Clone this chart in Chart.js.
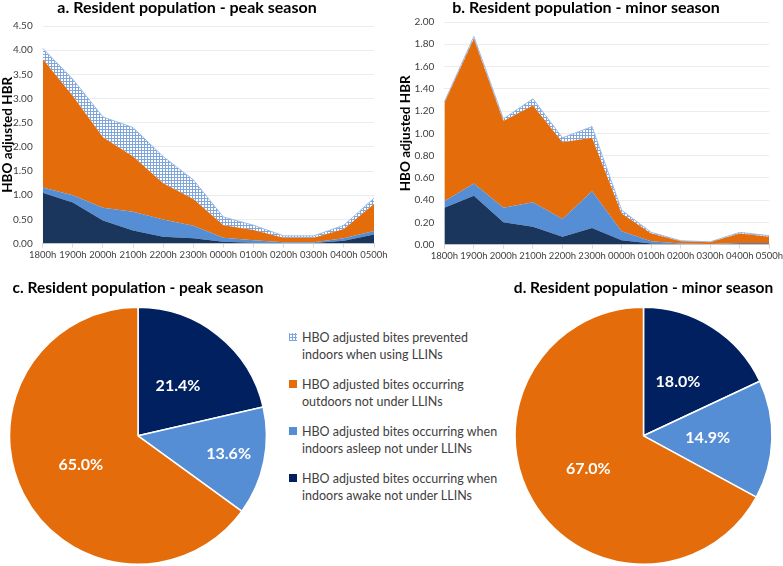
<!DOCTYPE html>
<html>
<head>
<meta charset="utf-8">
<script src="https://cdn.jsdelivr.net/npm/chart.js@4.4.1/dist/chart.umd.min.js"></script>
<style>
body{margin:0;background:#fff;width:783px;height:566px;position:relative;overflow:hidden;font-family:Lato,"Open Sans",sans-serif;}
canvas{position:absolute;}
#legend{position:absolute;left:289px;top:329px;font-size:12.5px;color:#404040;line-height:17px;}
#legend .item{position:relative;padding-left:13px;margin-bottom:13px;}
#legend .sw{position:absolute;left:0;top:4px;width:8px;height:8px;}
</style>
</head>
<body>
<canvas id="ca" width="392" height="272" style="left:0;top:0"></canvas>
<canvas id="cb" width="395" height="272" style="left:390px;top:0"></canvas>
<canvas id="cc" width="280" height="290" style="left:-2px;top:275px"></canvas>
<canvas id="cd" width="283" height="290" style="left:502px;top:275px"></canvas>
<div id="legend"></div>
<script>
// Categories
const hours=["1800h","1900h","2000h","2100h","2200h","2300h","0000h","0100h","0200h","0300h","0400h","0500h"];
const seriesNames=["HBO adjusted bites occurring when indoors awake not under LLINs","HBO adjusted bites occurring when indoors asleep not under LLINs","HBO adjusted bites occurring outdoors not under LLINs","HBO adjusted bites prevented indoors when using LLINs"];
const legendLines=[["HBO adjusted bites prevented","indoors when using LLINs"],["HBO adjusted bites occurring","outdoors not under LLINs"],["HBO adjusted bites occurring when","indoors asleep not under LLINs"],["HBO adjusted bites occurring when","indoors awake not under LLINs"]];

// a. peak season (stacked)
const peakAwake=[1.05,0.85,0.48,0.27,0.14,0.11,0.04,0.02,0.01,0.01,0.06,0.19];
const peakAsleep=[0.11,0.15,0.26,0.39,0.36,0.26,0.08,0.05,0.02,0.02,0.05,0.07];
const peakOutdoors=[2.66,2.05,1.46,1.14,0.75,0.55,0.26,0.21,0.09,0.09,0.19,0.56];
const peakPrevented=[0.22,0.35,0.42,0.60,0.55,0.40,0.17,0.10,0.04,0.04,0.08,0.12];

// b. minor season (stacked)
const minorAwake=[0.33,0.44,0.20,0.16,0.07,0.15,0.04,0.01,0.005,0,0.01,0.01];
const minorAsleep=[0.06,0.11,0.13,0.22,0.16,0.33,0.08,0.02,0.005,0.005,0.005,0.005];
const minorOutdoors=[0.88,1.30,0.78,0.87,0.69,0.48,0.16,0.07,0.02,0.015,0.085,0.055];
const minorPrevented=[0.01,0.02,0.02,0.06,0.04,0.10,0.03,0.01,0.005,0.005,0.01,0.01];

// c / d pies (percent): awake, asleep, outdoors
const pieLabels=["Indoors awake","Indoors asleep","Outdoors"];
const peakPie=[21.4,13.6,65.0];
const minorPie=[18.0,14.9,67.0];

const NAVY_AREA="#1b365d",NAVY_PIE="#002060",LBLUE="#558ed5",ORANGE="#e46c0a";

function gridPattern(){
let c=document.createElement("canvas");c.width=3;c.height=3;
let g=c.getContext("2d");
g.fillStyle="#fff";g.fillRect(0,0,3,3);
g.fillStyle="#7ea6dc";g.fillRect(0,0,3,1);g.fillRect(0,0,1,3);
return g.createPattern(c,"repeat");
}

function areaChart(id,title,data,max,step,pad,titleGap,axisW){
let fills=[NAVY_AREA,LBLUE,ORANGE,gridPattern()];
return new Chart(document.getElementById(id),{
type:"line",
data:{labels:hours,datasets:data.map((d,i)=>({label:seriesNames[i],data:d,backgroundColor:fills[i],borderColor:i==3?"#9dbde6":fills[i],borderWidth:i==3?1:0,pointRadius:0,tension:0,fill:i==0?"origin":"-1"}))},
options:{
responsive:false,animation:false,
layout:{padding:pad},
plugins:{legend:{display:false},tooltip:{enabled:false},
title:{display:true,text:title,color:"#000",font:{family:"Lato",size:16,weight:"bold",lineHeight:1},padding:{top:0,bottom:titleGap}}},
scales:{
x:{offset:false,grid:{display:true,drawOnChartArea:false,color:"#d9d9d9",tickLength:4},border:{color:"#d9d9d9"},
ticks:{color:"#404040",font:{family:"Lato",size:9.5},maxRotation:0,autoSkip:false,padding:2}},
y:{stacked:true,min:0,max:max,grid:{color:"#ececec",drawTicks:false},border:{display:false},
afterFit:s=>{s.width=axisW;},
ticks:{stepSize:step,color:"#404040",font:{family:"Lato",size:10},padding:10,callback:v=>v.toFixed(2)},
title:{display:true,text:"HBO adjusted HBR",color:"#000",font:{family:"Lato",size:13.5,weight:"bold"},padding:{top:0,bottom:2}}}
}
}
});
}

areaChart("ca","a. Resident population - peak season",[peakAwake,peakAsleep,peakOutdoors,peakPrevented],4.5,0.5,{left:0,right:18,top:0,bottom:9},10,42.7);
areaChart("cb","b. Resident population - minor season",[minorAwake,minorAsleep,minorOutdoors,minorPrevented],2.0,0.2,{left:8,right:11,top:0,bottom:8},6,46.3);

// draws the percentage labels inside the slices
const pieText={
id:"pieText",
afterDatasetsDraw(chart,args,opts){
let ctx=chart.ctx;
let meta=chart.getDatasetMeta(0);
ctx.save();
ctx.fillStyle="#fff";ctx.font="bold 16px Lato";ctx.textAlign="center";ctx.textBaseline="middle";
meta.data.forEach((arc,i)=>{
let p=arc.getProps(["x","y","startAngle","endAngle","outerRadius"],true);
let a=(p.startAngle+p.endAngle)/2;
let r=p.outerRadius*(opts.radius[i]||0.5);
ctx.fillText(chart.data.datasets[0].data[i].toFixed(1)+"%",p.x+Math.cos(a)*r,p.y+Math.sin(a)*r);
});
ctx.restore();
}
};

function pieChart(id,title,data,radii){
return new Chart(document.getElementById(id),{
type:"pie",
data:{labels:pieLabels,datasets:[{data:data,backgroundColor:[NAVY_PIE,LBLUE,ORANGE],borderColor:"#fff",borderWidth:1.5}]},
options:{
responsive:false,animation:false,
layout:{padding:0},
plugins:{legend:{display:false},tooltip:{enabled:false},
title:{display:true,text:title,color:"#000",font:{family:"Lato",size:15.5,weight:"bold"},padding:{top:4,bottom:9}},
pieText:{radius:radii}}
},
plugins:[pieText]
});
}

pieChart("cc","c. Resident population - peak season",peakPie,[0.5,0.72,0.5]);
pieChart("cd","d. Resident population - minor season",minorPie,[0.5,0.5,0.5]);

// Legend
let legendSwatches=[null,ORANGE,LBLUE,NAVY_PIE];
let lg=document.getElementById("legend");
legendLines.forEach((lines,i)=>{
let it=document.createElement("div");it.className="item";
let sw=document.createElement("span");sw.className="sw";
if(legendSwatches[i]) sw.style.background=legendSwatches[i];
else sw.style.background="repeating-linear-gradient(0deg,#7ea6dc 0 1px,transparent 1px 3px),repeating-linear-gradient(90deg,#7ea6dc 0 1px,#fff 1px 3px)";
it.appendChild(sw);
it.appendChild(document.createTextNode(lines[0]));
it.appendChild(document.createElement("br"));
it.appendChild(document.createTextNode(lines[1]));
lg.appendChild(it);
});
</script>
</body>
</html>
